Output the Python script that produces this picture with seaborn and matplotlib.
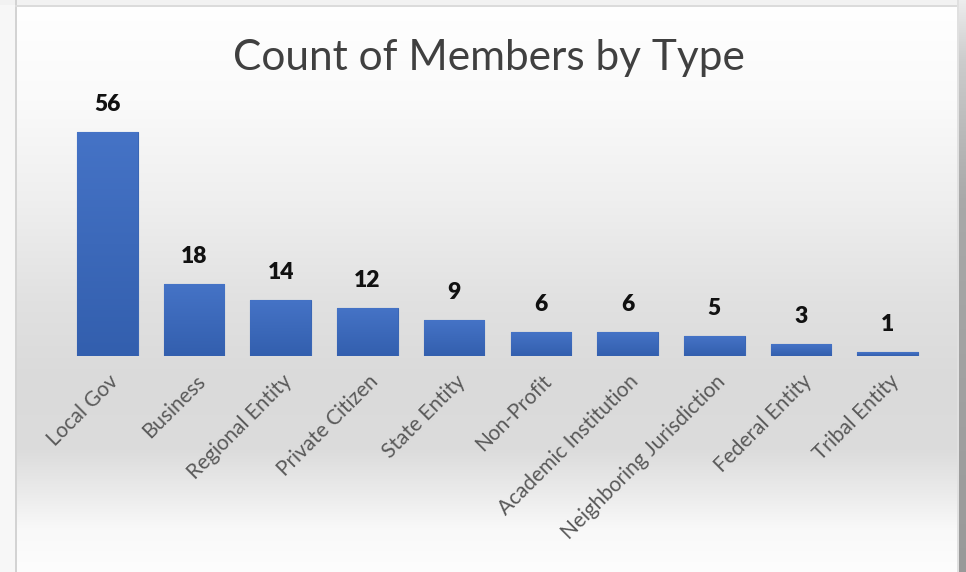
import numpy as np
import pandas as pd
import matplotlib
matplotlib.use("Agg")
import matplotlib.pyplot as plt
import matplotlib.transforms as mtransforms
import seaborn as sns

member_types = ["Local Gov", "Business", "Regional Entity", "Private Citizen",
                "State Entity", "Non-Profit", "Academic Institution",
                "Neighboring Jurisdiction", "Federal Entity", "Tribal Entity"]
member_counts = [56, 18, 14, 12, 9, 6, 6, 5, 3, 1]

df = pd.DataFrame({"Type": member_types, "Count": member_counts})

sns.set_theme(style="white")
plt.rcParams["font.family"] = ["Lato", "DejaVu Sans"]

W, H, DPI = 966, 572, 100
fig = plt.figure(figsize=(W / DPI, H / DPI), dpi=DPI)

# Background panel: vertical grey gradient inside a framed chart area
bg = fig.add_axes([0, 0, 1, 1], zorder=-10)
ys = np.arange(H)
stops_y = [0, 100, 200, 300, 380, 450, 495, 530, 572]
stops_v = [255, 250, 239, 225, 218, 220, 236, 249, 253]
col = np.interp(ys, stops_y, stops_v) / 255.0
img = np.repeat(col[:, None], W, axis=1)
img = np.stack([img] * 3, axis=-1)
img[:, :15] = 0.97
img[:5, :] = 0.95
img[:, 15:17] = 0.83
img[5:7, 15:] = 0.86
right_shade = np.interp(ys, [0, 60, 200, 572], [0.93, 0.80, 0.66, 0.60])
img[:, 959:] = right_shade[:, None, None]
img[:, 957:959] = 0.88
bg.imshow(img, aspect="auto", extent=[0, W, H, 0], interpolation="bilinear")
bg.set_xlim(0, W)
bg.set_ylim(H, 0)
bg.axis("off")

ax = fig.add_axes([64 / W, 216 / H, (931 - 64) / W, 240 / H])
ax.patch.set_alpha(0)

sns.barplot(data=df, x="Type", y="Count", color="#4472C4", width=0.7,
            saturation=1, ax=ax, zorder=3)

# Subtle vertical shading on each bar
grad = np.linspace(0, 1, 64)[:, None]
top_c = np.array([0x45, 0x73, 0xC6]) / 255
bot_c = np.array([0x33, 0x5F, 0xAE]) / 255
bar_img = top_c[None, None, :] * (1 - grad[..., None]) + bot_c[None, None, :] * grad[..., None]
for p in ax.patches:
    x0, y0 = p.get_x(), p.get_y()
    w, h = p.get_width(), p.get_height()
    im = ax.imshow(bar_img, extent=[x0, x0 + w, y0, y0 + h], aspect="auto",
                   zorder=4, interpolation="bilinear")
    im.set_clip_path(p)
    p.set_edgecolor("#3A66B4")
    p.set_linewidth(0.8)

for i, v in enumerate(member_counts):
    ax.annotate(str(v), (i, v), xytext=(0, 20), textcoords="offset points",
                ha="center", va="center", fontsize=16.5, fontweight="heavy",
                color="#111111")

ax.set_xlim(-0.5, len(member_types) - 0.5)
ax.set_ylim(0, 60)
ax.set_xlabel("")
ax.set_ylabel("")
ax.set_yticks([])
ax.tick_params(axis="x", length=0, pad=16)
shift = mtransforms.ScaledTranslation(0.08, 0, fig.dpi_scale_trans)
for lab in ax.get_xticklabels():
    lab.set_rotation(45)
    lab.set_ha("right")
    lab.set_va("center")
    lab.set_rotation_mode("anchor")
    lab.set_fontsize(15)
    lab.set_color("#595959")
    lab.set_transform(lab.get_transform() + shift)
for s in ax.spines.values():
    s.set_visible(False)

fig.text(489 / W, 1 - 58 / H, "Count of Members by Type", ha="center", va="center",
         fontsize=30.5, color="#404040")

fig.savefig("out.png", dpi=DPI)
